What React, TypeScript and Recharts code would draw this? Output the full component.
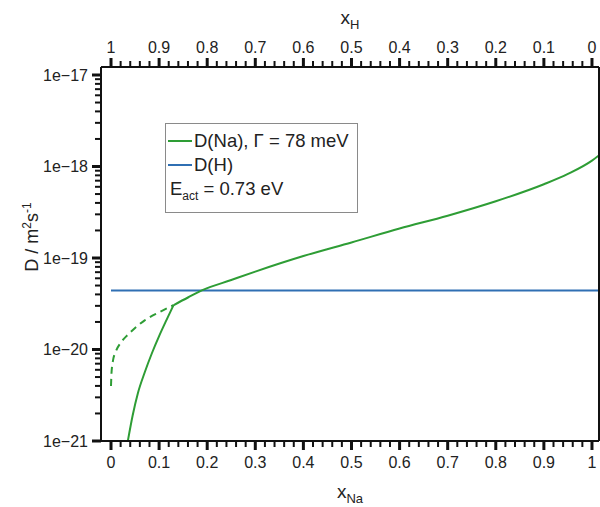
import { LineChart, Line, XAxis, YAxis, Legend, Label } from "recharts";

const FONT = "'Liberation Sans', Arial, sans-serif";
const GREEN = "#2e9d35";
const BLUE = "#2f6fb3";
const INK = "#111";

// axis ticks / labels
const xNaLabels = ["0", "0.1", "0.2", "0.3", "0.4", "0.5", "0.6", "0.7", "0.8", "0.9", "1"];
const xHLabels = ["1", "0.9", "0.8", "0.7", "0.6", "0.5", "0.4", "0.3", "0.2", "0.1", "0"];
const yDecades = [1e-21, 1e-20, 1e-19, 1e-18, 1e-17];
const yLabels = ["1e\u221221", "1e\u221220", "1e\u221219", "1e\u221218", "1e\u221217"];

// D(H), constant
const hX = [0, 1.015];
const hD = [4.4e-20, 4.4e-20];

// D(Na) dashed branch
const naDashX = [0, 0.001, 0.004, 0.01, 0.02, 0.035, 0.05, 0.07, 0.1, 0.13];
const naDashD = [4.0e-21, 5.5e-21, 7.5e-21, 9.5e-21, 1.18e-20, 1.45e-20, 1.72e-20, 2.08e-20, 2.55e-20, 3.05e-20];

// D(Na) solid, lower branch
const naLowX = [0.035, 0.045, 0.056, 0.07, 0.085, 0.1, 0.115, 0.13];
const naLowD = [1.0e-21, 1.9e-21, 3.35e-21, 5.6e-21, 9.1e-21, 1.4e-20, 2.08e-20, 3.05e-20];

// D(Na) solid, upper branch
const naUpX = [0.13, 0.16, 0.19, 0.25, 0.3, 0.4, 0.5, 0.6, 0.7, 0.8, 0.9, 0.95, 1.0, 1.015];
const naUpD = [3.05e-20, 3.7e-20, 4.45e-20, 5.75e-20, 7.1e-20, 1.05e-19, 1.48e-19, 2.1e-19, 2.9e-19, 4.17e-19, 6.4e-19, 8.3e-19, 1.16e-18, 1.33e-18];

const rows = (xs: number[], ys: number[]) => xs.map((x, i) => ({ x, d: ys[i] }));

const xTicks: number[] = [];
for (let i = 0; i <= 50; i++) xTicks.push(+(i * 0.02).toFixed(2));
const yTicks: number[] = [];
yDecades.slice(0, -1).forEach((d) => {
    for (let m = 1; m <= 9; m++) yTicks.push(d * m);
});
yTicks.push(1e-17);

const X_DOMAIN = [-0.0208, 1.0146];
const Y_DOMAIN = [1e-21, 1.223e-17];
const MINOR = 6;
const MAJOR = 9;
const TICK_W = 3;

const renderXTick = (top: boolean) => (props: any) => {
    const x = Number(props.x);
    const y = Number(props.y);
    const v = props.payload.value;
    const idx = Math.round(v * 10);
    const major = Math.abs(v * 10 - idx) < 1e-6;
    const dir = top ? -1 : 1;
    return (
        <g>
            <line
                x1={x}
                x2={x}
                y1={y}
                y2={y + dir * (major ? MAJOR : MINOR)}
                stroke={INK}
                strokeWidth={major ? TICK_W : 2}
            />
            {major && (
                <text x={x} y={top ? y - 14 : y + 27} textAnchor="middle" fontSize={16} fontFamily={FONT} fill="#222">
                    {top ? xHLabels[idx] : xNaLabels[idx]}
                </text>
            )}
        </g>
    );
};

const renderYTick = (props: any) => {
    const x = Number(props.x);
    const y = Number(props.y);
    const v = props.payload.value;
    const e = Math.floor(Math.log10(v) + 1e-9);
    const mant = v / Math.pow(10, e);
    const major = Math.abs(mant - 1) < 1e-6;
    return (
        <g>
            <line
                x1={x}
                x2={x - (major ? MAJOR : MINOR)}
                y1={y}
                y2={y}
                stroke={INK}
                strokeWidth={major ? TICK_W : 2}
            />
            {major && (
                <text x={x - 13} y={y + 6} textAnchor="end" fontSize={16} fontFamily={FONT} fill="#222">
                    {yLabels[e + 21]}
                </text>
            )}
        </g>
    );
};

const LegendBox = () => (
    <div
        style={{
            border: "1px solid #8a8a8a",
            background: "#fff",
            padding: "5px 8px 4px 2px",
            fontFamily: FONT,
            fontSize: 18.5,
            color: "#222",
            lineHeight: "24px",
            whiteSpace: "nowrap",
        }}
    >
        <div style={{ display: "flex", alignItems: "center" }}>
            <span style={{ display: "inline-block", width: 24, height: 2, background: GREEN, marginRight: 2 }} />
            D(Na), Γ = 78 meV
        </div>
        <div style={{ display: "flex", alignItems: "center" }}>
            <span style={{ display: "inline-block", width: 24, height: 2, background: BLUE, marginRight: 2 }} />
            D(H)
        </div>
        <div style={{ paddingLeft: 2 }}>
            E<sub style={{ fontSize: 12 }}>act</sub> = 0.73 eV
        </div>
    </div>
);

const axisLine = { stroke: INK, strokeWidth: 2 };

export default function App() {
    return (
        <div style={{ position: "absolute", left: 0, top: 0, background: "#fff" }}>
            <LineChart width={600} height={507} margin={{ top: 0, right: 0, bottom: 0, left: 0 }}>
                <XAxis
                    xAxisId="bottom"
                    type="number"
                    dataKey="x"
                    orientation="bottom"
                    domain={X_DOMAIN}
                    allowDataOverflow
                    ticks={xTicks}
                    interval={0}
                    height={66}
                    tickLine={false}
                    tickSize={0}
                    tickMargin={0}
                    tick={renderXTick(false)}
                    axisLine={axisLine}
                >
                    <Label
                        content={() => (
                            <text x={350} y={498} textAnchor="middle" fontFamily={FONT} fontSize={19} fill="#222">
                                x<tspan fontSize={13} dy={5}>Na</tspan>
                            </text>
                        )}
                    />
                </XAxis>
                <XAxis
                    xAxisId="top"
                    type="number"
                    dataKey="x"
                    orientation="top"
                    domain={X_DOMAIN}
                    allowDataOverflow
                    ticks={xTicks}
                    interval={0}
                    height={67}
                    tickLine={false}
                    tickSize={0}
                    tickMargin={0}
                    tick={renderXTick(true)}
                    axisLine={axisLine}
                >
                    <Label
                        content={() => (
                            <text x={350} y={24} textAnchor="middle" fontFamily={FONT} fontSize={19} fill="#222">
                                x<tspan fontSize={13} dy={5}>H</tspan>
                            </text>
                        )}
                    />
                </XAxis>
                <YAxis
                    yAxisId="left"
                    type="number"
                    scale="log"
                    domain={Y_DOMAIN}
                    allowDataOverflow
                    ticks={yTicks}
                    interval={0}
                    width={101}
                    tickLine={false}
                    tickSize={0}
                    tickMargin={0}
                    tick={renderYTick}
                    axisLine={axisLine}
                >
                    <Label
                        content={() => (
                            <text
                                x={38}
                                y={237}
                                transform="rotate(-90, 38, 237)"
                                textAnchor="middle"
                                fontFamily={FONT}
                                fontSize={18}
                                fill="#222"
                            >
                                D / m<tspan fontSize={12} dy={-7}>2</tspan>
                                <tspan dy={7}>s</tspan>
                                <tspan fontSize={12} dy={-7}>-1</tspan>
                            </text>
                        )}
                    />
                </YAxis>
                <YAxis
                    yAxisId="right"
                    orientation="right"
                    type="number"
                    domain={[0, 1]}
                    width={1}
                    tick={false}
                    tickLine={false}
                    axisLine={axisLine}
                />
                <Legend
                    layout="vertical"
                    align="center"
                    verticalAlign="middle"
                    content={() => <LegendBox />}
                    wrapperStyle={{ left: 165, top: 123, width: "auto" }}
                />
                {/* invisible series so the top (x_H) axis gets a scale */}
                <Line
                    xAxisId="top"
                    yAxisId="left"
                    data={rows(hX, hD)}
                    dataKey="d"
                    stroke="none"
                    dot={false}
                    activeDot={false}
                    legendType="none"
                    isAnimationActive={false}
                />
                <Line
                    xAxisId="bottom"
                    yAxisId="left"
                    data={rows(hX, hD)}
                    dataKey="d"
                    name="D(H)"
                    type="linear"
                    stroke={BLUE}
                    strokeWidth={2}
                    dot={false}
                    isAnimationActive={false}
                />
                <Line
                    xAxisId="bottom"
                    yAxisId="left"
                    data={rows(naDashX, naDashD)}
                    dataKey="d"
                    name="D(Na) dashed"
                    type="monotone"
                    stroke={GREEN}
                    strokeWidth={2}
                    strokeDasharray="7 5"
                    dot={false}
                    isAnimationActive={false}
                />
                <Line
                    xAxisId="bottom"
                    yAxisId="left"
                    data={rows(naLowX, naLowD)}
                    dataKey="d"
                    name="D(Na) low"
                    type="monotone"
                    stroke={GREEN}
                    strokeWidth={2}
                    dot={false}
                    isAnimationActive={false}
                />
                <Line
                    xAxisId="bottom"
                    yAxisId="left"
                    data={rows(naUpX, naUpD)}
                    dataKey="d"
                    name="D(Na)"
                    type="monotone"
                    stroke={GREEN}
                    strokeWidth={2}
                    dot={false}
                    isAnimationActive={false}
                />
            </LineChart>
        </div>
    );
}
